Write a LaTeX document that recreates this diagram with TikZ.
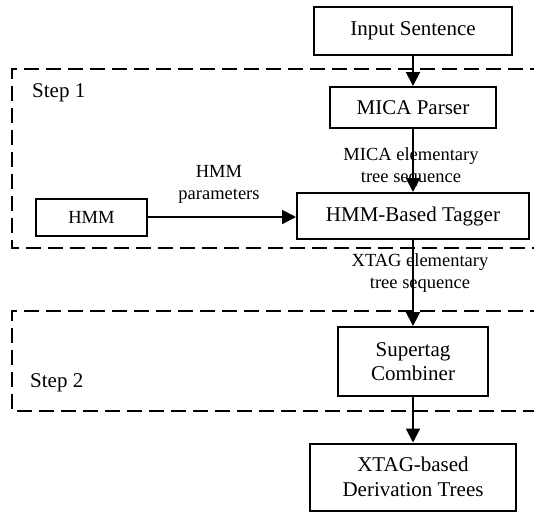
\documentclass[tikz,border=0pt]{standalone}
\usepackage{fontspec}
\setmainfont{Liberation Serif}
\usetikzlibrary{arrows.meta}
\begin{document}
\begin{tikzpicture}[x=1pt,y=-1pt,
  box/.style={draw, line width=2pt, inner sep=0pt, align=center,
    font=\fontsize{21}{24.5}\selectfont},
  smallbox/.style={box, font=\fontsize{18.5}{22}\selectfont},
  lbl/.style={inner sep=0pt, align=center, font=\fontsize{18.5}{22}\selectfont},
  steplbl/.style={inner sep=0pt, anchor=west, font=\fontsize{21}{24}\selectfont},
  group/.style={draw, line width=1.6pt, dash pattern=on 15pt off 7pt},
  arr/.style={line width=2pt, -{Triangle[length=14pt,width=14pt]}}]
\useasboundingbox (0,0) rectangle (534,512);
% groups
\draw[group] (545,69) -- (12,69) -- (12,248) -- (545,248);
\draw[group] (545,311) -- (12,311) -- (12,411) -- (545,411);
\node[steplbl] (s1) at (32,93) {Step 1};
\node[steplbl] (s2) at (30,383) {Step 2};
% boxes
\node[box, minimum width=198pt, minimum height=48pt] (in) at (413,31) {Input Sentence};
\node[box, minimum width=166pt, minimum height=41pt] (mica) at (413,107.5) {MICA Parser};
\node[box, minimum width=232pt, minimum height=46pt] (tag) at (413,216) {HMM-Based Tagger};
\node[smallbox, minimum width=111pt, minimum height=37pt] (hmm) at (91.5,217) {HMM};
\node[box, minimum width=150pt, minimum height=69pt] (sup) at (413,361.5) {Supertag\\Combiner};
\node[box, minimum width=206pt, minimum height=67pt] (der) at (413,477) {XTAG-based\\Derivation Trees};
% labels
\node[lbl] (l1) at (411,167.5) {MICA elementary\\tree sequence};
\node[lbl] (l2) at (219,184) {HMM\\parameters};
\node[lbl] (l3) at (420,273) {XTAG elementary\\tree sequence};
% arrows
\draw[arr] (in) -- (mica);
\draw[arr] (mica) -- (tag);
\draw[arr] (hmm) -- (hmm -| tag.west);
\draw[arr] (tag) -- (sup);
\draw[arr] (sup) -- (der);
\end{tikzpicture}
\end{document}
